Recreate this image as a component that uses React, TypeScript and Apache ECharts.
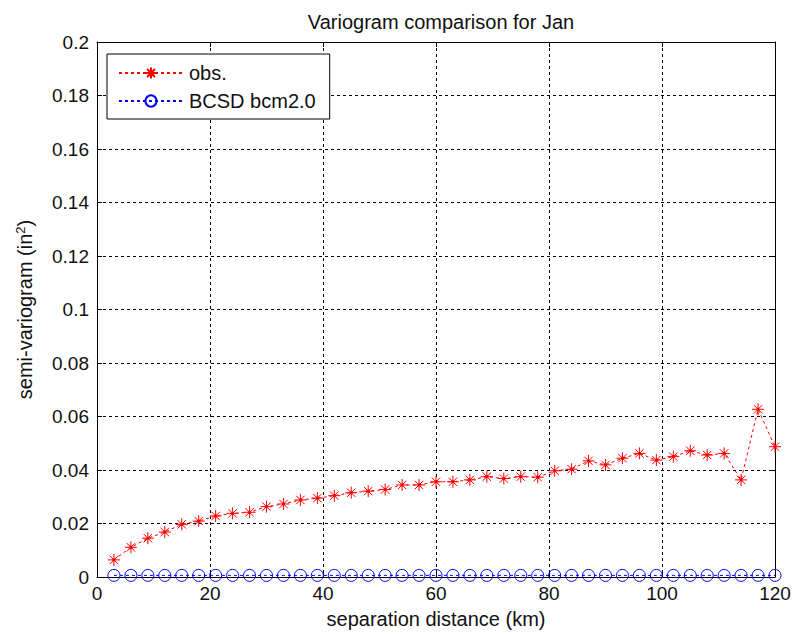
import React, { useEffect, useRef } from "react";
import * as echarts from "echarts";

const distances = [3, 6, 9, 12, 15, 18, 21, 24, 27, 30, 33, 36, 39, 42, 45, 48, 51, 54, 57, 60, 63, 66, 69, 72, 75, 78, 81, 84, 87, 90, 93, 96, 99, 102, 105, 108, 111, 114, 117, 120];
const obsValues = [0.0064, 0.0111, 0.0145, 0.0168, 0.0197, 0.0209, 0.0228, 0.0238, 0.0242, 0.0263, 0.0273, 0.0288, 0.0295, 0.0304, 0.0315, 0.0321, 0.0327, 0.0344, 0.0344, 0.0356, 0.0356, 0.0363, 0.0375, 0.0368, 0.0375, 0.0373, 0.0397, 0.0403, 0.0434, 0.0419, 0.0444, 0.0462, 0.0437, 0.0450, 0.0472, 0.0456, 0.0462, 0.0363, 0.0627, 0.0487];
const bcsdValues = [0.0006, 0.0006, 0.0006, 0.0006, 0.0006, 0.0006, 0.0006, 0.0006, 0.0006, 0.0006, 0.0006, 0.0006, 0.0006, 0.0006, 0.0006, 0.0006, 0.0006, 0.0006, 0.0006, 0.0006, 0.0006, 0.0006, 0.0006, 0.0006, 0.0006, 0.0006, 0.0006, 0.0006, 0.0006, 0.0006, 0.0006, 0.0006, 0.0006, 0.0006, 0.0006, 0.0006, 0.0006, 0.0006, 0.0006, 0.0006];
const seriesNames = ["obs.", "BCSD bcm2.0"];

const FONT = "Liberation Sans, Arial, sans-serif";
const asterisk = "path://M0,5L10,5M5,0L5,10M1.5,1.5L8.5,8.5M8.5,1.5L1.5,8.5M4.2,4.2L5.8,4.2L5.8,5.8L4.2,5.8Z";

export default function App() {
  const ref = useRef<HTMLDivElement>(null);
  useEffect(() => {
    if (!ref.current) return;
    const chart = echarts.init(ref.current, null, { renderer: "svg" });
    const axisCommon = {
      type: "value" as const,
      axisLine: { show: true, onZero: false, lineStyle: { color: "#000", width: 1 } },
      axisTick: { show: true, inside: true, length: 5, lineStyle: { color: "#000" } },
    };
    chart.setOption({
      animation: false,
      backgroundColor: "#fff",
      title: {
        text: "Variogram comparison for Jan",
        left: 436,
        top: 7,
        textAlign: "center",
        textStyle: { fontFamily: FONT, fontSize: 20, fontWeight: "normal", color: "#111" },
      },
      legend: {
        orient: "vertical",
        left: 107,
        top: 54,
        padding: [9, 14, 8, 11],
        itemGap: 8,
        itemWidth: 64,
        itemHeight: 14,
        backgroundColor: "#fff",
        borderColor: "#000",
        borderWidth: 1,
        textStyle: { fontFamily: FONT, fontSize: 20, color: "#111", padding: [0, 0, 0, 1] },
        data: seriesNames,
      },
      grid: { left: 97, right: 19, top: 42, bottom: 57, containLabel: false },
      xAxis: [
        {
          ...axisCommon,
          min: 0,
          max: 120,
          interval: 20,
          name: "separation distance (km)",
          nameLocation: "middle",
          nameGap: 32,
          nameTextStyle: { fontFamily: FONT, fontSize: 20, color: "#111" },
          axisLabel: { fontFamily: FONT, fontSize: 19, color: "#111", margin: 7 },
          splitLine: { show: true, lineStyle: { color: "#000", type: [3, 3], width: 1 } },
        },
        {
          ...axisCommon,
          position: "top",
          min: 0,
          max: 120,
          interval: 20,
          axisLabel: { show: false },
          splitLine: { show: false },
        },
      ],
      yAxis: [
        {
          ...axisCommon,
          min: 0,
          max: 0.2,
          interval: 0.02,
          name: "semi-variogram (in{sup|2})",
          nameLocation: "middle",
          nameGap: 62,
          nameTextStyle: {
            fontFamily: FONT,
            fontSize: 20,
            color: "#111",
            rich: { sup: { fontFamily: FONT, fontSize: 13, color: "#111", verticalAlign: "top", padding: [0, 0, 8, 0] } },
          },
          axisLabel: { fontFamily: FONT, fontSize: 19, color: "#111", margin: 8 },
          splitLine: { show: true, lineStyle: { color: "#000", type: [3, 3], width: 1 } },
        },
        {
          ...axisCommon,
          position: "right",
          min: 0,
          max: 0.2,
          interval: 0.02,
          axisLabel: { show: false },
          splitLine: { show: false },
        },
      ],
      series: [
        {
          name: seriesNames[0],
          type: "line",
          data: distances.map((d, i) => [d, obsValues[i]]),
          symbol: asterisk,
          symbolSize: 12,
          showAllSymbol: true,
          lineStyle: { color: "#ff0000", width: 1, type: [3, 3] },
          itemStyle: { color: "#ff0000", borderColor: "#ff0000", borderWidth: 1 },
          z: 3,
        },
        {
          name: seriesNames[1],
          type: "line",
          data: distances.map((d, i) => [d, bcsdValues[i]]),
          symbol: "circle",
          symbolSize: 12,
          showAllSymbol: true,
          lineStyle: { color: "#0000ff", width: 1, type: [3, 3] },
          itemStyle: { color: "rgba(0,0,0,0)", borderColor: "#0000ff", borderWidth: 1 },
          z: 3,
        },
      ],
    });
    return () => chart.dispose();
  }, []);
  return <div ref={ref} style={{ position: "absolute", left: 0, top: 0, width: 794, height: 634 }} />;
}
